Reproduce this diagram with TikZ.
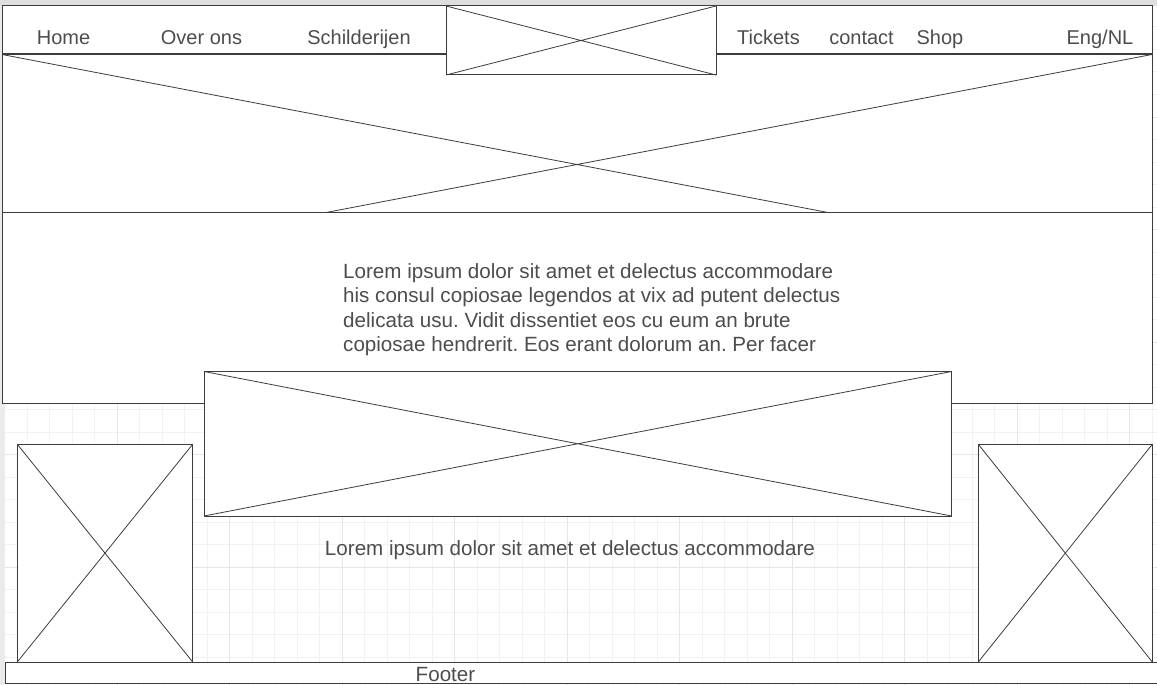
\documentclass[tikz,border=0pt]{standalone}
\usepackage{fontspec}
\setmainfont{Liberation Sans}
\usetikzlibrary{positioning}
\definecolor{boxline}{HTML}{3C3C3C}
\definecolor{txt}{HTML}{4D4D4D}
\definecolor{gridminor}{HTML}{F2F2F2}
\definecolor{gridmajor}{HTML}{E6E6E6}
\definecolor{bandgrey}{HTML}{DEDEDE}
\definecolor{stripgrey}{HTML}{EBEBEB}
\frenchspacing

\begin{document}
\begin{tikzpicture}[x=1pt, y=-1pt,
    box/.style={draw=boxline, fill=white, line width=1pt, inner sep=0pt, outer sep=0pt},
    cross/.style={draw=boxline, line width=0.8pt},
    navlabel/.style={text=txt, font=\fontsize{20}{24}\selectfont, inner sep=0pt, anchor=base},
    bodytext/.style={text=txt, font=\fontsize{20.6}{24.5}\selectfont, inner sep=0pt}]
    \useasboundingbox (0,0) rectangle (1157,685);
    % canvas
    \fill[white] (0,0) rectangle (1157,685);
    \foreach \gx in {4.5,27,...,1157}
        \draw[gridminor, line width=1pt] (\gx,0) -- (\gx,685);
    \foreach \gy in {4.5,27,...,685}
        \draw[gridminor, line width=1pt] (0,\gy) -- (1157,\gy);
    \foreach \gx in {4.5,117,...,1157}
        \draw[gridmajor, line width=1pt] (\gx,0) -- (\gx,685);
    \foreach \gy in {4.5,117,...,685}
        \draw[gridmajor, line width=1pt] (0,\gy) -- (1157,\gy);
    \fill[stripgrey] (0,0) rectangle (4.5,685);
    \fill[bandgrey] (0,0) rectangle (1157,6);

    % hero image, partly covered by the text block
    \node[box, minimum width=1150pt, minimum height=220pt] (hero) at (577,164.5) {};
    \draw[cross] (hero.north west) -- (hero.south east)
        (hero.north east) -- (hero.south west);
    \node[box, minimum width=1150pt, minimum height=191pt] (body) at (577,307.5) {};

    % navigation bar with logo
    \node[box, minimum width=1150pt, minimum height=48pt] (nav) at (577,30) {};
    \node[box, minimum width=270pt, minimum height=69pt] (logo) at (581,40.5) {};
    \draw[cross] (logo.north west) -- (logo.south east)
        (logo.north east) -- (logo.south west);
    \node[navlabel] (home) at (63.5,45) {Home};
    \node[navlabel] (about) at (201.5,45) {Over ons};
    \node[navlabel] (paintings) at (359,45) {Schilderijen};
    \node[navlabel] (tickets) at (768.5,45) {Tickets};
    \node[navlabel] (contact) at (861.5,45) {contact};
    \node[navlabel] (shop) at (940,45) {Shop};
    \node[navlabel] (lang) at (1100,45) {Eng/NL};

    \node[bodytext, align=left, anchor=north west] (intro) at (343,263.2)
        {Lorem ipsum dolor sit amet et delectus accommodare\\
         his consul copiosae legendos at vix ad putent delectus\\
         delicata usu. Vidit dissentiet eos cu eum an brute\\
         copiosae hendrerit. Eos erant dolorum an. Per facer};

    % banner and side images
    \node[box, minimum width=747.5pt, minimum height=144.5pt] (banner) at (577.75,443.75) {};
    \draw[cross] (banner.north west) -- (banner.south east)
        (banner.north east) -- (banner.south west);
    \node[box, minimum width=175.4pt, minimum height=217.7pt] (leftimg) at (105,553.15) {};
    \draw[cross] (leftimg.north west) -- (leftimg.south east)
        (leftimg.north east) -- (leftimg.south west);
    \node[box, minimum width=174pt, minimum height=217.7pt] (rightimg) at (1065.3,553.15) {};
    \draw[cross] (rightimg.north west) -- (rightimg.south east)
        (rightimg.north east) -- (rightimg.south west);
    \node[bodytext, anchor=base] (caption) at (570,555) {Lorem ipsum dolor sit amet et delectus accommodare};

    % footer
    \node[box, minimum width=1200pt, minimum height=21pt] (footer) at (605.3,672.8) {};
    \node[bodytext, anchor=base] (footertext) at (445.5,681) {Footer};
\end{tikzpicture}
\end{document}
